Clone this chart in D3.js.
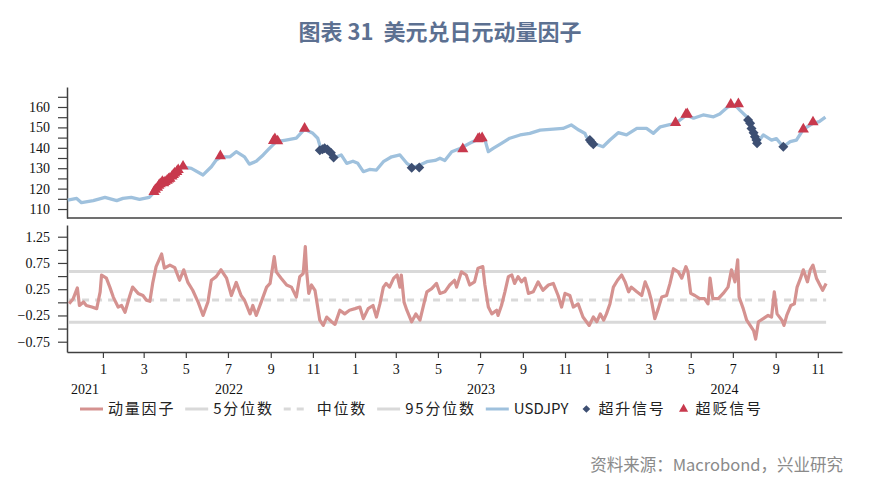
<!DOCTYPE html>
<html>
<head>
<meta charset="utf-8">
<script src="https://cdn.jsdelivr.net/npm/d3@7"></script>
<style>
body { margin: 0; background: #fff; }
svg { display: block; font-family: "Noto Sans CJK SC", sans-serif; }
</style>
</head>
<body>
<div id="main"></div>
<script>
// USDJPY
const usdjpyDates = [
    '2021-11-11','2021-11-24','2021-12-01','2021-12-18',
    '2022-01-04','2022-01-21','2022-01-30','2022-02-11','2022-02-23','2022-03-09','2022-03-19','2022-03-28',
    '2022-04-07','2022-04-17','2022-04-27','2022-05-09','2022-05-26','2022-06-07','2022-06-14','2022-06-21',
    '2022-07-04','2022-07-13','2022-07-25','2022-08-01','2022-08-11','2022-08-21','2022-08-30','2022-09-09',
    '2022-09-23','2022-10-08','2022-10-20','2022-11-01','2022-11-08','2022-11-13','2022-11-21','2022-11-30',
    '2022-12-12','2022-12-20','2022-12-29',
    '2023-01-05','2023-01-13','2023-01-22','2023-02-01','2023-02-11','2023-02-23','2023-03-07','2023-03-17',
    '2023-03-26','2023-04-05','2023-04-15','2023-04-27','2023-05-04','2023-05-11','2023-05-21','2023-06-02',
    '2023-06-16','2023-07-01','2023-07-08','2023-07-13','2023-07-20','2023-08-01','2023-08-13','2023-08-28',
    '2023-09-11','2023-09-26','2023-10-15','2023-10-29','2023-11-10','2023-11-21','2023-11-30','2023-12-02',
    '2023-12-12','2023-12-26',
    '2024-01-05','2024-01-17','2024-01-29','2024-02-13','2024-02-27','2024-03-08','2024-03-18','2024-03-30',
    '2024-04-09','2024-04-25','2024-05-05','2024-05-19','2024-06-03','2024-06-12','2024-06-24','2024-07-04',
    '2024-07-11','2024-07-21','2024-07-28','2024-08-02','2024-08-05','2024-08-14','2024-08-26','2024-09-02',
    '2024-09-12','2024-09-22','2024-10-01','2024-10-11','2024-10-25','2024-11-03','2024-11-12'
];
const usdjpyValues = [
    114.4,115.2,113.1,114.1,
    115.7,114.1,115.2,115.7,114.7,115.7,119.3,123.4,
    125.0,128.3,130.7,129.9,126.7,130.7,134.0,135.6,
    135.6,138.1,135.6,132.0,133.4,136.5,139.7,143.0,
    143.8,144.7,149.1,147.1,144.7,138.9,138.9,134.9,
    136.5,132.4,133.4,
    132.4,128.3,129.4,129.1,133.2,135.6,136.5,132.4,
    130.4,131.6,133.2,133.8,134.9,133.8,138.1,139.7,
    142.2,144.7,144.0,138.1,139.7,142.2,144.7,146.3,
    147.1,148.7,149.2,149.5,151.2,148.7,147.0,145.4,
    142.2,140.5,
    143.8,147.4,146.3,149.5,149.5,147.1,150.3,151.2,
    152.0,156.1,154.5,156.1,155.2,156.6,160.1,161.0,
    158.5,155.2,150.3,147.1,142.2,146.3,143.8,144.5,
    140.5,143.0,143.8,149.1,152.0,152.8,155.0
];

// momentum factor
const momentumDates = [
    '2021-11-13','2021-11-19','2021-11-25','2021-11-28','2021-12-04','2021-12-08','2021-12-16','2021-12-23','2021-12-28','2021-12-30',
    '2022-01-06','2022-01-11','2022-01-16','2022-01-23','2022-01-28','2022-02-02','2022-02-09','2022-02-13','2022-02-21','2022-02-28',
    '2022-03-05','2022-03-10','2022-03-14','2022-03-19','2022-03-27','2022-03-31','2022-04-08','2022-04-15','2022-04-22','2022-04-28',
    '2022-05-04','2022-05-11','2022-05-19','2022-05-26','2022-06-02','2022-06-07','2022-06-14','2022-06-21','2022-06-29','2022-07-06',
    '2022-07-13','2022-07-20','2022-07-25','2022-08-02','2022-08-06','2022-08-11','2022-08-18','2022-08-26','2022-08-31','2022-09-06',
    '2022-09-09','2022-09-16','2022-09-24','2022-10-01','2022-10-08','2022-10-13','2022-10-18','2022-10-21','2022-10-23','2022-10-26',
    '2022-10-30','2022-11-04','2022-11-11','2022-11-16','2022-11-21','2022-11-28','2022-12-03','2022-12-10','2022-12-17','2022-12-24',
    '2023-01-01','2023-01-08','2023-01-13','2023-01-20','2023-01-27','2023-02-01','2023-02-06','2023-02-11','2023-02-15','2023-02-20',
    '2023-02-26','2023-03-03','2023-03-07','2023-03-09','2023-03-13','2023-03-17','2023-03-24','2023-03-30','2023-04-05','2023-04-12',
    '2023-04-15','2023-04-22','2023-04-29','2023-05-04','2023-05-11','2023-05-18','2023-05-25','2023-05-28','2023-06-04','2023-06-11',
    '2023-06-16','2023-06-23','2023-06-28','2023-07-05','2023-07-08','2023-07-13','2023-07-18','2023-07-25','2023-07-27','2023-08-01',
    '2023-08-06','2023-08-11','2023-08-16','2023-08-20','2023-08-25','2023-08-30','2023-09-04','2023-09-09','2023-09-16','2023-09-23',
    '2023-09-30','2023-10-08','2023-10-15','2023-10-22','2023-10-27','2023-11-01','2023-11-08','2023-11-13','2023-11-20','2023-11-27',
    '2023-12-06','2023-12-12','2023-12-17','2023-12-22','2023-12-27','2023-12-31',
    '2024-01-05','2024-01-10','2024-01-16','2024-01-22','2024-01-27','2024-02-01','2024-02-05','2024-02-13','2024-02-20','2024-02-25',
    '2024-03-01','2024-03-05','2024-03-10','2024-03-15','2024-03-20','2024-03-27','2024-04-01','2024-04-06','2024-04-13','2024-04-18',
    '2024-04-24','2024-04-27','2024-05-01','2024-05-07','2024-05-14','2024-05-21','2024-05-26','2024-05-29','2024-06-02','2024-06-10',
    '2024-06-17','2024-06-24','2024-06-29','2024-07-04','2024-07-08','2024-07-10','2024-07-16','2024-07-21','2024-07-26','2024-07-31',
    '2024-08-03','2024-08-07','2024-08-14','2024-08-21','2024-08-26','2024-08-30','2024-09-03','2024-09-10','2024-09-13','2024-09-17',
    '2024-09-23','2024-09-28','2024-10-02','2024-10-07','2024-10-11','2024-10-17','2024-10-21','2024-10-25','2024-10-30','2024-11-04',
    '2024-11-08','2024-11-13'
];
const momentumValues = [
    -0.025,0.07,0.275,-0.06,0.006,-0.06,-0.09,-0.12,0.2,0.52,
    0.46,0.29,0.1,-0.09,-0.06,-0.19,0.13,0.29,0.17,0.13,
    0.04,0.02,0.36,0.68,0.92,0.65,0.71,0.66,0.42,0.62,
    0.38,0.23,0.0,-0.25,0.006,0.42,0.49,0.62,0.46,0.13,
    0.38,0.13,0.04,-0.22,-0.06,-0.25,0.0,0.29,0.36,0.87,
    0.58,0.46,0.33,0.29,0.1,0.49,0.55,1.06,0.58,0.17,
    0.33,0.23,-0.34,-0.44,-0.28,-0.37,-0.42,-0.15,-0.22,-0.15,
    -0.12,-0.09,-0.31,-0.12,-0.06,-0.28,-0.03,0.29,0.36,0.29,
    0.46,0.52,0.29,0.52,0.0,-0.15,-0.37,-0.22,-0.34,0.04,
    0.2,0.26,0.36,0.17,0.2,0.33,0.42,0.29,0.58,0.52,
    0.33,0.39,0.65,0.68,0.33,-0.09,-0.22,-0.15,-0.25,-0.06,
    0.2,0.49,0.52,0.36,0.49,0.39,0.46,0.17,0.2,0.39,
    0.23,0.33,0.36,0.13,-0.09,0.17,0.13,-0.09,-0.03,-0.28,
    -0.44,-0.28,-0.37,-0.22,-0.34,-0.22,
    -0.03,0.29,0.42,0.52,0.39,0.2,0.29,0.2,0.13,0.39,
    0.23,0.04,-0.31,-0.12,0.1,0.13,0.36,0.64,0.58,0.46,
    0.68,0.58,0.17,0.13,0.07,0.07,-0.03,0.46,0.07,0.07,
    0.17,0.29,0.62,0.39,0.81,0.1,-0.12,-0.34,-0.44,-0.54,
    -0.7,-0.37,-0.31,-0.25,-0.28,0.2,-0.22,-0.34,-0.44,-0.25,
    -0.06,-0.03,0.29,0.46,0.62,0.39,0.62,0.71,0.46,0.33,
    0.23,0.36
];

// percentile levels of the momentum factor
const pct5 = -0.38, pct50 = 0.045, pct95 = 0.585;

// signals plotted on the USDJPY line
const upSignalDates = [
    '2022-11-11','2022-11-15','2022-11-18','2022-11-22','2022-11-27','2022-12-01',
    '2023-03-24','2023-04-04','2023-12-07','2023-12-09','2023-12-12',
    '2024-07-23','2024-07-26','2024-07-28','2024-07-31','2024-08-02','2024-08-04','2024-08-05','2024-09-12'
];
const upSignalValues = [
    138.8,139.3,139.8,139.2,137.6,135.3,
    130.2,130.4,143.8,142.8,141.7,
    153.6,152.0,149.5,147.4,145.4,143.8,142.2,140.5
];
const downSignalDates = [
    '2022-03-16','2022-03-18','2022-03-21','2022-03-23','2022-03-25','2022-03-28','2022-03-30','2022-04-01',
    '2022-04-04','2022-04-06','2022-04-08','2022-04-11','2022-04-13','2022-04-15','2022-04-18','2022-04-20',
    '2022-04-27','2022-06-20','2022-09-05','2022-09-07','2022-09-11','2022-10-20',
    '2023-06-06','2023-06-28','2023-06-30','2023-07-04',
    '2024-04-09','2024-04-24','2024-04-26','2024-06-28','2024-07-09','2024-10-11','2024-10-25'
];
const downSignalValues = [
    118.5,119.5,120.5,121.5,122.3,123.4,122.8,123.3,
    124.0,124.6,125.0,126.0,126.8,127.5,128.3,129.2,
    130.9,136.0,143.5,144.3,143.3,149.5,
    139.4,144.3,144.6,144.8,
    152.3,156.3,156.6,161.2,161.5,149.1,152.6
];

const yearLabels = ['2021', '2022', '2023', '2024'];
const legendLabels = ['动量因子', '5分位数', '中位数', '95分位数', 'USDJPY', '超升信号', '超贬信号'];

const colMomentum = '#d59290', colPct = '#d9d9d9', colUsd = '#9fc1dd',
      colUp = '#3d4f72', colDown = '#c8394d', colAxis = '#404040';

const width = 875, height = 487;
const parse = d3.timeParse('%Y-%m-%d');

const svg = d3.select('#main').append('svg')
    .attr('width', width)
    .attr('height', height);

// title
svg.append('text')
    .attr('x', 440).attr('y', 40)
    .attr('text-anchor', 'middle')
    .style('white-space', 'pre')
    .style('font-size', '22px').style('font-weight', 'bold')
    .attr('fill', '#5c7091')
    .text('图表 31  美元兑日元动量因子');

// scales
const x = d3.scaleTime()
    .domain([parse('2021-11-10'), parse('2024-12-06')])
    .range([67, 842]);
const yTop = d3.scaleLinear().domain([105.6, 169.8]).range([218, 87]);
const yBot = d3.scaleLinear().domain([-0.946, 1.473]).range([352, 225]);

const usd = usdjpyDates.map((d, i) => ({ date: parse(d), v: usdjpyValues[i] }));
const mom = momentumDates.map((d, i) => ({ date: parse(d), v: momentumValues[i] }));
const ups = upSignalDates.map((d, i) => ({ date: parse(d), v: upSignalValues[i] }));
const downs = downSignalDates.map((d, i) => ({ date: parse(d), v: downSignalValues[i] }));

function styleAxis(g) {
    g.selectAll('path.domain').attr('stroke', colAxis).attr('stroke-width', 1.5);
    g.selectAll('line').attr('stroke', colAxis).attr('stroke-width', 1.2);
    g.selectAll('text').attr('fill', '#111')
        .style('font-family', '"Liberation Serif", serif').style('font-size', '14px');
}

// upper panel axes
svg.append('g')
    .attr('transform', 'translate(67,0)')
    .call(d3.axisLeft(yTop).tickValues(d3.range(110, 166, 5)).tickSize(9).tickPadding(8).tickSizeOuter(0)
        .tickFormat(d => d % 10 === 0 ? d : ''))
    .call(styleAxis);
svg.append('line')
    .attr('x1', x.range()[0]).attr('x2', x.range()[1])
    .attr('y1', yTop.range()[0]).attr('y2', yTop.range()[0])
    .attr('stroke', colAxis).attr('stroke-width', 1.5);

// USDJPY line
svg.append('path')
    .datum(usd)
    .attr('fill', 'none')
    .attr('stroke', colUsd)
    .attr('stroke-width', 3.3)
    .attr('stroke-linejoin', 'round')
    .attr('d', d3.line().x(d => x(d.date)).y(d => yTop(d.v)));

// signals
svg.selectAll('.up')
    .data(ups).enter().append('path')
        .attr('class', 'up')
        .attr('transform', d => `translate(${x(d.date)},${yTop(d.v)}) rotate(45)`)
        .attr('d', d3.symbol().type(d3.symbolSquare).size(50))
        .attr('fill', colUp);
svg.selectAll('.down')
    .data(downs).enter().append('path')
        .attr('class', 'down')
        .attr('transform', d => `translate(${x(d.date)},${yTop(d.v)})`)
        .attr('d', d3.symbol().type(d3.symbolTriangle).size(54))
        .attr('fill', colDown);

// lower panel axes
svg.append('g')
    .attr('transform', 'translate(67,0)')
    .call(d3.axisLeft(yBot).tickValues(d3.range(-0.75, 1.26, 0.25)).tickSize(9).tickPadding(8).tickSizeOuter(0)
        .tickFormat(d => Math.round(Math.abs(d) * 4) % 2 === 1 ? d3.format('.2f')(d) : ''))
    .call(styleAxis);
svg.append('g')
    .attr('transform', `translate(0,${yBot.range()[0]})`)
    .call(d3.axisBottom(x).ticks(d3.timeMonth.every(2)).tickSize(6).tickPadding(6).tickSizeOuter(0)
        .tickFormat(d => d.getMonth() + 1))
    .call(styleAxis);

// year labels, centred on the visible part of each year
svg.selectAll('.year')
    .data(yearLabels).enter().append('text')
        .attr('class', 'year')
        .attr('x', d => {
            const a = d3.max([parse(d + '-01-01'), x.domain()[0]]);
            const b = d3.min([parse((+d + 1) + '-01-01'), x.domain()[1]]);
            return (x(a) + x(b)) / 2;
        })
        .attr('y', 394)
        .attr('text-anchor', 'middle')
        .style('font-family', '"Liberation Serif", serif').style('font-size', '14px')
        .attr('fill', '#111')
        .text(d => d);

// percentile lines
const xs = [mom[0].date, mom[mom.length - 1].date];
[[pct95, null], [pct5, null], [pct50, '7,6']].forEach(([v, dash]) => {
    svg.append('line')
        .attr('x1', x(xs[0])).attr('x2', x(xs[1]))
        .attr('y1', yBot(v)).attr('y2', yBot(v))
        .attr('stroke', colPct).attr('stroke-width', 3)
        .attr('stroke-dasharray', dash);
});

// momentum line
svg.append('path')
    .datum(mom)
    .attr('fill', 'none')
    .attr('stroke', colMomentum)
    .attr('stroke-width', 3.2)
    .attr('stroke-linejoin', 'round')
    .attr('d', d3.line().x(d => x(d.date)).y(d => yBot(d.v)));

// legend
const legendKinds = [
    { type: 'line', color: colMomentum },
    { type: 'line', color: colPct },
    { type: 'dash', color: colPct },
    { type: 'line', color: colPct },
    { type: 'line', color: colUsd },
    { type: 'diamond', color: colUp },
    { type: 'triangle', color: colDown }
];
let lx = 80;
const ly = 409;
legendLabels.forEach((label, i) => {
    const k = legendKinds[i];
    const g = svg.append('g');
    let tx;
    if (k.type === 'line' || k.type === 'dash') {
        g.append('line')
            .attr('x1', lx).attr('x2', lx + 23).attr('y1', ly).attr('y2', ly)
            .attr('stroke', k.color).attr('stroke-width', 3)
            .attr('stroke-dasharray', k.type === 'dash' ? '7,6' : null);
        tx = lx + (k.type === 'dash' ? 33 : 28);
    } else {
        g.append('path')
            .attr('transform', `translate(${lx + 8},${ly})` + (k.type === 'diamond' ? ' rotate(45)' : ''))
            .attr('d', d3.symbol().type(k.type === 'diamond' ? d3.symbolSquare : d3.symbolTriangle).size(k.type === 'diamond' ? 30 : 36))
            .attr('fill', k.color);
        tx = lx + 20;
    }
    const t = g.append('text')
        .attr('x', tx).attr('y', ly + 5)
        .style('font-size', '15px')
        .style('letter-spacing', /[\u4e00-\u9fa5]/.test(label) ? '1.8px' : '0px')
        .attr('fill', '#222')
        .text(label);
    lx = tx + t.node().getComputedTextLength() + 10;
});

// source
svg.append('text')
    .attr('x', 843).attr('y', 471)
    .attr('text-anchor', 'end')
    .style('font-size', '16.5px')
    .attr('fill', '#8a8a8a')
    .text('资料来源：Macrobond，兴业研究');
</script>
</body>
</html>
